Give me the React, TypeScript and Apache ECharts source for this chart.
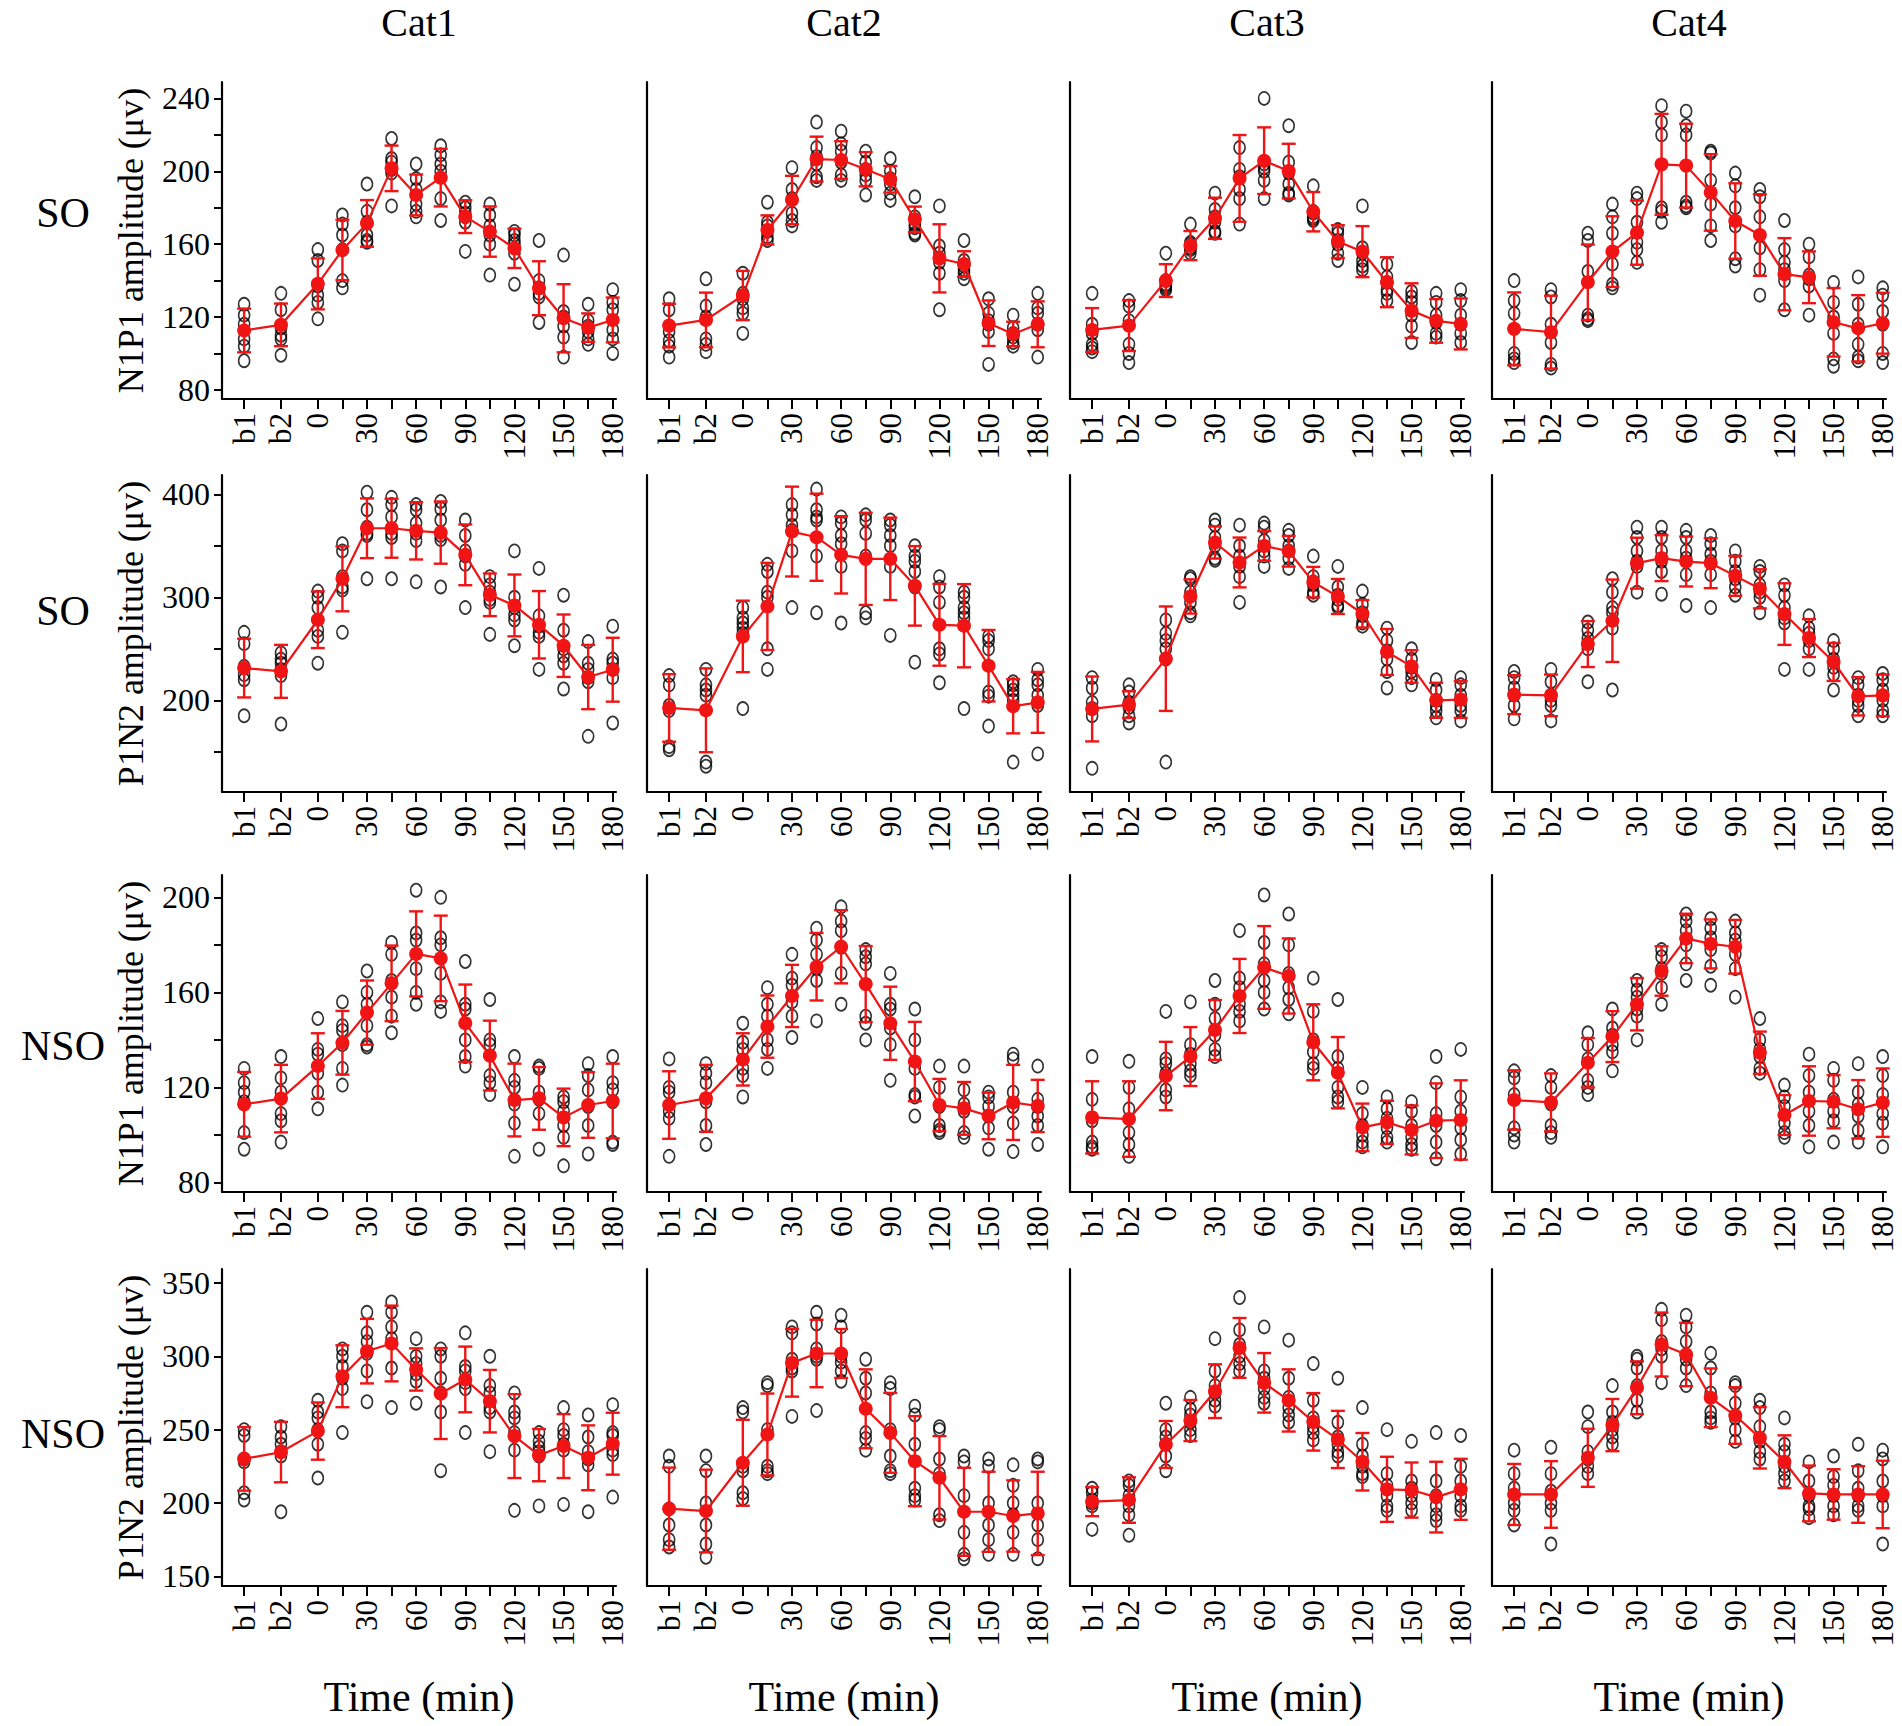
import React, { useEffect, useRef } from "react";
import * as echarts from "echarts";

// ---------------- DATA ----------------
const timeLabels = ["b1", "b2", "0", "15", "30", "45", "60", "75", "90", "105", "120", "135", "150", "165", "180"];
const timePositions = [-45, -22.5, 0, 15, 30, 45, 60, 75, 90, 105, 120, 135, 150, 165, 180];
const shownTimeLabels = ["b1", "b2", "0", "30", "60", "90", "120", "150", "180"];
const columnTitles = ["Cat1", "Cat2", "Cat3", "Cat4"];
const rowGroups = ["SO", "SO", "NSO", "NSO"];
const rowMeasures = ["N1P1 amplitude (μv)", "P1N2 amplitude (μv)", "N1P1 amplitude (μv)", "P1N2 amplitude (μv)"];
const xAxisTitle = "Time (min)";

const yMajorTicks = [
  [80, 120, 160, 200, 240],
  [200, 300, 400],
  [80, 120, 160, 200],
  [150, 200, 250, 300, 350],
];
const yMinorTicks = [
  [100, 140, 180, 220],
  [150, 250, 350],
  [100, 140, 180],
  [],
];

// Row 1: SO, N1P1
const soN1P1Cat1Mean = [112.6, 115.7, 138.2, 156.8, 171.4, 201.6, 187, 196.5, 175.1, 166.9, 157.7, 135.8, 119.3, 114.2, 118.4];
const soN1P1Cat1Sd = [12, 11.7, 14, 16.6, 12.8, 12.5, 11.2, 15.8, 9, 13.8, 10.8, 14.8, 18.7, 7.8, 12.3];
const soN1P1Cat1Pts = [
  [127, 121, 116, 108, 104, 96], [133, 124, 114, 110, 108, 99], [157, 151, 137, 132, 128, 119],
  [176, 171, 165, 157, 140, 136], [193, 178, 172, 165, 162, 161], [218, 207, 205, 201, 199, 181],
  [204, 196, 190, 182, 178, 175], [214, 209, 204, 200, 185, 173], [183, 180, 177, 175, 172, 156],
  [182, 176, 170, 165, 160, 143], [167, 165, 162, 160, 155, 138], [162, 140, 136, 133, 131, 117],
  [154, 123, 120, 115, 109, 98], [127, 118, 115, 112, 108, 105], [135, 128, 124, 113, 108, 100],
];
const soN1P1Cat2Mean = [115.3, 118.4, 131.8, 167.8, 184.2, 206.7, 206.2, 201.1, 195.6, 173.6, 152.2, 149.1, 116.6, 110.7, 116];
const soN1P1Cat2Sd = [12, 15, 13.5, 8, 13.3, 12.3, 10.3, 9.4, 7.3, 7, 18.7, 7, 12.5, 6.7, 12.6];
const soN1P1Cat2Pts = [
  [130, 124, 112, 107, 104, 98], [141, 126, 120, 108, 105, 101], [144, 133, 130, 125, 122, 111],
  [183, 172, 170, 167, 164, 162], [202, 190, 185, 177, 173, 170], [227, 213, 208, 204, 197, 195],
  [222, 215, 211, 205, 198, 195], [211, 205, 201, 198, 195, 187], [207, 200, 196, 193, 188, 184],
  [186, 175, 171, 169, 166, 165], [181, 159, 155, 150, 144, 124], [162, 151, 148, 146, 144, 141],
  [130, 122, 118, 116, 112, 94], [121, 114, 111, 109, 106, 104], [133, 125, 122, 116, 113, 98],
];
const soN1P1Cat3Mean = [112.9, 115.3, 140, 159.2, 174.2, 196.1, 205.8, 200.1, 177.8, 161.4, 155.9, 139.1, 123.5, 117.9, 116.2];
const soN1P1Cat3Sd = [12, 14, 9, 8, 11.3, 23.8, 18.3, 15, 10.8, 9, 14, 13.7, 15, 12, 14];
const soN1P1Cat3Pts = [
  [133, 116, 111, 105, 103, 101], [129, 126, 118, 105, 100, 95], [155, 140, 138, 137, 136, 135],
  [171, 161, 160, 158, 157, 155], [188, 179, 175, 172, 167, 166], [213, 201, 197, 190, 185, 171],
  [240, 204, 202, 200, 195, 185], [225, 205, 199, 193, 188, 187], [192, 178, 177, 175, 174, 173],
  [168, 166, 162, 160, 155, 151], [181, 158, 155, 151, 148, 146], [149, 142, 139, 135, 133, 129],
  [134, 131, 128, 121, 115, 106], [133, 128, 121, 117, 111, 109], [135, 129, 121, 116, 111, 106],
];
const soN1P1Cat4Mean = [113.5, 111.7, 139.1, 155.9, 166.3, 203.8, 203.1, 188.4, 172.7, 165, 143.5, 141.8, 117.1, 113.8, 116.6];
const soN1P1Cat4Sd = [20, 20, 20.7, 19.4, 17.6, 27.7, 23, 21, 20.7, 22.4, 19.8, 14.2, 18.8, 18.2, 16.7];
const soN1P1Cat4Pts = [
  [140, 129, 122, 100, 97, 95], [135, 131, 116, 106, 94, 92], [166, 162, 145, 121, 119, 118],
  [182, 175, 166, 149, 138, 136], [188, 185, 172, 161, 157, 150], [236, 227, 220, 180, 178, 172],
  [233, 225, 220, 183, 181, 180], [211, 210, 195, 182, 170, 162], [199, 192, 180, 170, 152, 148],
  [190, 186, 175, 158, 146, 132], [173, 157, 150, 146, 140, 124], [160, 153, 143, 141, 137, 121],
  [139, 128, 120, 111, 97, 93], [142, 127, 116, 105, 98, 96], [136, 132, 123, 116, 100, 95],
];

// Row 2: SO, P1N2
const soP1N2Cat1Mean = [231.3, 228.1, 278.2, 317.9, 367, 367, 364.5, 362.8, 341.2, 302.4, 292.1, 273.3, 253, 222.6, 229.7];
const soP1N2Cat1Sd = [28.5, 25.7, 27.5, 31.5, 29, 28.6, 27.8, 30.2, 29.5, 20.7, 30, 32.7, 30.3, 31.2, 31];
const soP1N2Cat1Pts = [
  [266, 255, 233, 225, 220, 185], [246, 240, 236, 230, 224, 177], [306, 300, 290, 268, 262, 236],
  [352, 345, 320, 310, 307, 266], [402, 385, 368, 362, 360, 318], [397, 390, 378, 362, 358, 318],
  [390, 385, 372, 362, 355, 315], [393, 386, 375, 360, 356, 310], [375, 360, 345, 340, 332, 290],
  [320, 312, 305, 298, 295, 264], [345, 300, 290, 283, 278, 253], [328, 282, 272, 266, 262, 230],
  [302, 268, 250, 243, 236, 211], [257, 236, 230, 222, 218, 165], [272, 240, 236, 230, 222, 178],
];
const soP1N2Cat2Mean = [192.6, 190.3, 262, 291.1, 363.8, 358.3, 341.2, 337.3, 337.3, 311.1, 273.3, 272.4, 233.6, 194.2, 198];
const soP1N2Cat2Sd = [32.8, 40.7, 34.7, 42.3, 43.6, 42.3, 37.5, 44.7, 40, 38.6, 39.7, 40.4, 34.7, 26.3, 29.6];
const soP1N2Cat2Pts = [
  [224, 215, 195, 190, 155, 152], [230, 215, 210, 205, 140, 136], [290, 280, 275, 270, 265, 192],
  [332, 325, 305, 300, 250, 230], [390, 380, 370, 365, 345, 290], [405, 385, 378, 375, 340, 285],
  [378, 372, 360, 352, 330, 275], [380, 375, 362, 340, 285, 280], [375, 370, 360, 350, 330, 263],
  [350, 340, 335, 325, 310, 237], [320, 310, 295, 250, 245, 217], [305, 300, 290, 285, 280, 192],
  [262, 258, 250, 208, 204, 175], [218, 215, 210, 205, 200, 140], [230, 220, 215, 205, 195, 148],
];
const soP1N2Cat3Mean = [191.6, 195.8, 240.4, 300.8, 353.2, 333.8, 349.9, 344.7, 314.7, 300.8, 284, 246.9, 232.9, 200, 200.7];
const soP1N2Cat3Sd = [31.5, 13, 50.7, 16.6, 15.6, 24.2, 14.4, 14.9, 14.8, 17, 13.3, 22.3, 15.8, 17, 17.8];
const soP1N2Cat3Pts = [
  [222, 212, 198, 192, 185, 134], [215, 208, 198, 193, 185, 178], [278, 265, 258, 250, 240, 140],
  [320, 318, 305, 295, 285, 282], [375, 370, 358, 350, 338, 336], [370, 350, 340, 330, 320, 295],
  [372, 368, 355, 345, 340, 330], [365, 360, 350, 345, 338, 328], [340, 320, 315, 312, 305, 302],
  [330, 310, 302, 298, 292, 290], [306, 293, 285, 282, 275, 272], [270, 258, 248, 240, 228, 212],
  [250, 240, 232, 228, 222, 215], [220, 210, 200, 195, 190, 183], [222, 215, 205, 195, 190, 180],
];
const soP1N2Cat4Mean = [205.5, 204.8, 254.6, 277.2, 333.1, 338, 334.7, 333.1, 320.8, 308.2, 283.7, 260.4, 237.2, 203.9, 204.8];
const soP1N2Cat4Sd = [18.9, 20.2, 22.3, 40, 24.7, 22.3, 24.2, 24.2, 19.4, 19, 29.9, 18.4, 18.4, 18.6, 20.2];
const soP1N2Cat4Pts = [
  [228, 222, 212, 205, 195, 182], [230, 218, 205, 200, 195, 180], [276, 268, 260, 255, 250, 218],
  [318, 305, 290, 285, 270, 210], [368, 358, 345, 335, 330, 305], [368, 358, 345, 335, 325, 303],
  [365, 358, 345, 338, 322, 292], [360, 352, 342, 335, 322, 290], [345, 335, 325, 318, 310, 302],
  [330, 325, 312, 305, 300, 285], [312, 302, 290, 280, 275, 230], [282, 270, 265, 258, 250, 230],
  [258, 250, 240, 232, 225, 210], [222, 215, 205, 200, 195, 185], [226, 220, 210, 200, 190, 185],
];

// Row 3: NSO, N1P1
const nsoN1P1Cat1Mean = [112.9, 115.3, 129, 138.8, 151.5, 163.8, 176.2, 174.3, 147, 133.4, 114.7, 115.4, 107.4, 112.6, 114.3];
const nsoN1P1Cat1Sd = [13.6, 14.2, 13.8, 13.4, 13.5, 15.9, 17.9, 18, 16.3, 14.7, 15.3, 13.2, 12.1, 13.8, 15.7];
const nsoN1P1Cat1Pts = [
  [128, 122, 118, 114, 101, 94], [133, 124, 118, 109, 106, 97], [149, 136, 134, 126, 118, 111],
  [156, 146, 144, 138, 128, 121], [169, 160, 155, 146, 138, 137], [181, 176, 165, 158, 150, 143],
  [203, 185, 182, 170, 160, 155], [200, 183, 180, 168, 156, 152], [173, 155, 153, 140, 133, 129],
  [157, 140, 138, 125, 122, 117], [133, 123, 120, 113, 105, 91], [129, 128, 118, 115, 109, 94],
  [116, 114, 110, 104, 99, 87], [130, 125, 119, 112, 104, 92], [133, 122, 119, 114, 97, 96],
];
const nsoN1P1Cat2Mean = [112.6, 115.4, 131.8, 145.6, 158.5, 170.8, 179.2, 163.5, 147, 130.9, 112.6, 111.2, 108, 113.7, 112.2];
const nsoN1P1Cat2Sd = [14.2, 14.1, 11, 13.1, 13.1, 14.2, 15.4, 16, 15.4, 16.7, 11, 11.1, 9.8, 15.8, 11];
const nsoN1P1Cat2Pts = [
  [132, 120, 118, 110, 107, 91], [130, 126, 122, 114, 104, 96], [147, 139, 136, 128, 125, 116],
  [162, 155, 150, 140, 136, 128], [176, 166, 163, 156, 150, 141], [187, 182, 176, 170, 165, 148],
  [196, 190, 186, 179, 168, 155], [178, 175, 172, 150, 147, 140], [168, 155, 153, 145, 138, 123],
  [153, 140, 128, 117, 116, 108], [129, 120, 112, 104, 102, 101], [129, 119, 113, 110, 101, 99],
  [118, 116, 112, 108, 103, 94], [134, 132, 118, 112, 105, 93], [129, 115, 112, 108, 104, 96],
];
const nsoN1P1Cat3Mean = [107.4, 106.7, 124.8, 133, 144.2, 158.5, 170.5, 166.9, 139, 126.2, 103.2, 105.3, 102.1, 106, 106.3];
const nsoN1P1Cat3Sd = [15.2, 15.9, 14.4, 12.4, 12.6, 15.6, 17.4, 15.8, 16, 15, 10, 9.1, 10.3, 15.7, 16.7];
const nsoN1P1Cat3Pts = [
  [133, 115, 106, 97, 95, 94], [131, 120, 111, 101, 96, 91], [152, 132, 130, 126, 119, 116],
  [156, 138, 134, 130, 127, 125], [165, 155, 149, 142, 136, 133], [186, 166, 162, 155, 152, 148],
  [201, 181, 172, 165, 160, 153], [193, 180, 168, 162, 157, 151], [166, 152, 140, 135, 130, 128],
  [157, 133, 128, 120, 116, 114], [120, 109, 104, 100, 97, 95], [116, 111, 107, 103, 99, 97],
  [114, 110, 104, 99, 96, 94], [133, 122, 109, 104, 97, 90], [136, 116, 110, 103, 98, 92],
];
const nsoN1P1Cat4Mean = [114.7, 113.7, 130.4, 141.4, 155, 169, 182.7, 180.4, 179.2, 134.6, 108.4, 114.3, 114, 110.8, 113.6];
const nsoN1P1Cat4Sd = [12.5, 12.2, 10.4, 10.7, 11, 10.4, 10.4, 10.3, 11.3, 8.9, 8.4, 14.6, 11.2, 12.3, 14.4];
const nsoN1P1Cat4Pts = [
  [127, 124, 117, 103, 100, 97], [125, 120, 113, 104, 101, 99], [143, 138, 132, 123, 120, 117],
  [153, 145, 142, 138, 135, 127], [165, 161, 158, 153, 150, 140], [178, 175, 170, 168, 162, 155],
  [193, 190, 186, 180, 172, 165], [191, 187, 183, 178, 171, 163], [190, 185, 182, 176, 170, 158],
  [149, 140, 136, 133, 128, 126], [121, 116, 112, 105, 101, 99], [134, 125, 118, 110, 104, 95],
  [128, 123, 115, 110, 106, 97], [130, 118, 113, 108, 102, 97], [133, 125, 117, 109, 105, 95],
];

// Row 4: NSO, P1N2
const nsoP1N2Cat1Mean = [230.1, 234.7, 249, 286.4, 303.5, 308.7, 291, 274.6, 284.2, 269.4, 245.6, 232.6, 238.8, 230.8, 240.4];
const nsoP1N2Cat1Sd = [21.7, 20.6, 19.5, 21.1, 22, 25.8, 14.4, 31, 22.4, 21.3, 28.6, 17.8, 21.8, 22.1, 21.1];
const nsoP1N2Cat1Pts = [
  [250, 246, 230, 228, 207, 202], [252, 245, 240, 235, 232, 194], [270, 262, 258, 250, 240, 217],
  [305, 300, 293, 285, 278, 248], [330, 316, 310, 302, 290, 269], [337, 330, 320, 312, 292, 265],
  [312, 300, 295, 288, 283, 268], [305, 300, 285, 275, 262, 222], [316, 293, 290, 282, 278, 248],
  [300, 280, 275, 265, 262, 235], [275, 262, 258, 248, 236, 195], [248, 242, 238, 235, 232, 198],
  [265, 250, 246, 240, 236, 199], [260, 245, 235, 230, 226, 194], [267, 248, 246, 236, 233, 204],
];
const nsoP1N2Cat2Mean = [196.1, 194.5, 227.4, 246.7, 295.5, 301.9, 301.9, 264.2, 247.8, 228.5, 217.2, 194, 194, 191.1, 192.9];
const nsoP1N2Cat2Sd = [28, 28.2, 29.3, 27.9, 23, 23, 16.7, 26.9, 27.2, 30.7, 28.4, 30, 27.3, 24.3, 28.4];
const nsoP1N2Cat2Pts = [
  [232, 225, 196, 185, 175, 170], [232, 222, 200, 185, 172, 163], [265, 262, 225, 222, 207, 203],
  [282, 280, 250, 225, 222, 220], [320, 316, 298, 292, 290, 259], [330, 322, 305, 300, 298, 263],
  [328, 320, 300, 296, 290, 283], [298, 285, 275, 248, 244, 236], [282, 278, 250, 232, 222, 220],
  [266, 260, 240, 210, 205, 202], [252, 250, 230, 220, 192, 188], [232, 228, 205, 180, 165, 162],
  [230, 225, 200, 185, 175, 165], [226, 212, 200, 192, 180, 165], [230, 228, 200, 185, 175, 162],
];
const nsoP1N2Cat3Mean = [200.9, 202, 239.9, 256.2, 276.2, 305.7, 281.9, 269.9, 255.3, 243.3, 228.1, 209.3, 208.8, 204, 209.3];
const nsoP1N2Cat3Sd = [9.9, 15.5, 16, 14, 18.3, 20.4, 20.3, 21.2, 19.6, 19.5, 19.6, 22.2, 18.8, 24.1, 20.8];
const nsoP1N2Cat3Pts = [
  [210, 207, 202, 200, 198, 182], [215, 212, 205, 198, 192, 178], [268, 250, 245, 240, 232, 222],
  [272, 264, 260, 255, 250, 246], [312, 290, 280, 275, 270, 266], [340, 318, 308, 300, 295, 290],
  [320, 290, 285, 278, 272, 268], [311, 285, 272, 265, 260, 255], [295, 270, 258, 252, 248, 243],
  [285, 255, 245, 240, 235, 232], [265, 240, 232, 225, 220, 218], [250, 220, 212, 205, 198, 195],
  [242, 215, 210, 205, 200, 195], [248, 215, 205, 198, 192, 188], [246, 225, 215, 205, 198, 195],
];
const nsoP1N2Cat4Mean = [205.8, 205.8, 230.8, 253.1, 278.5, 308, 301.2, 271.7, 259.6, 244.4, 228.1, 206.5, 205.8, 205.8, 205.8];
const nsoP1N2Cat4Sd = [20.8, 22.7, 19.8, 17.8, 18, 21.8, 21.6, 20, 19.3, 20.9, 18, 19, 17.2, 19.3, 23];
const nsoP1N2Cat4Pts = [
  [236, 220, 210, 200, 195, 185], [238, 220, 208, 200, 195, 172], [262, 252, 235, 230, 225, 220],
  [280, 262, 255, 250, 245, 240], [300, 298, 292, 280, 270, 262], [332, 325, 310, 305, 300, 282],
  [328, 320, 310, 298, 292, 280], [302, 292, 275, 262, 258, 255], [282, 280, 268, 258, 250, 242],
  [270, 265, 252, 242, 235, 230], [258, 240, 235, 225, 220, 215], [228, 215, 205, 198, 196, 190],
  [232, 218, 212, 205, 198, 192], [240, 222, 210, 205, 198, 195], [236, 230, 215, 205, 198, 172],
];

const panelData = [
  [
    [soN1P1Cat1Mean, soN1P1Cat1Sd, soN1P1Cat1Pts],
    [soN1P1Cat2Mean, soN1P1Cat2Sd, soN1P1Cat2Pts],
    [soN1P1Cat3Mean, soN1P1Cat3Sd, soN1P1Cat3Pts],
    [soN1P1Cat4Mean, soN1P1Cat4Sd, soN1P1Cat4Pts],
  ],
  [
    [soP1N2Cat1Mean, soP1N2Cat1Sd, soP1N2Cat1Pts],
    [soP1N2Cat2Mean, soP1N2Cat2Sd, soP1N2Cat2Pts],
    [soP1N2Cat3Mean, soP1N2Cat3Sd, soP1N2Cat3Pts],
    [soP1N2Cat4Mean, soP1N2Cat4Sd, soP1N2Cat4Pts],
  ],
  [
    [nsoN1P1Cat1Mean, nsoN1P1Cat1Sd, nsoN1P1Cat1Pts],
    [nsoN1P1Cat2Mean, nsoN1P1Cat2Sd, nsoN1P1Cat2Pts],
    [nsoN1P1Cat3Mean, nsoN1P1Cat3Sd, nsoN1P1Cat3Pts],
    [nsoN1P1Cat4Mean, nsoN1P1Cat4Sd, nsoN1P1Cat4Pts],
  ],
  [
    [nsoP1N2Cat1Mean, nsoP1N2Cat1Sd, nsoP1N2Cat1Pts],
    [nsoP1N2Cat2Mean, nsoP1N2Cat2Sd, nsoP1N2Cat2Pts],
    [nsoP1N2Cat3Mean, nsoP1N2Cat3Sd, nsoP1N2Cat3Pts],
    [nsoP1N2Cat4Mean, nsoP1N2Cat4Sd, nsoP1N2Cat4Pts],
  ],
];

// ---------------- LAYOUT / STYLE ----------------
const RED = "#f01414";
const FONT = "'Liberation Serif', 'Times New Roman', serif";
const GRID_LEFT = [222, 647, 1070, 1492];
const GRID_TOP = [82, 475, 875, 1269];
const GRID_W = 394;
const GRID_H = 317;
const X_MIN = -58.5;
const X_MAX = 182;
const Y_MIN = [75, 111, 76, 143.4];
const Y_MAX = [249, 418.7, 209.4, 359.5];
const ROW_LABEL_Y = [213, 611, 1046, 1434];

const shownTimePositions = shownTimeLabels.map((l) => timePositions[timeLabels.indexOf(l)]);
const labelForTime = (v: number) => {
  const idx = timePositions.findIndex((p) => Math.abs(p - v) < 0.01);
  return idx >= 0 ? timeLabels[idx] : "";
};

function buildOption() {
  const grid: any[] = [];
  const xAxis: any[] = [];
  const yAxis: any[] = [];
  const series: any[] = [];
  const graphic: any[] = [];
  const axisLineStyle = { color: "#000", width: 2.2 };

  for (let r = 0; r < 4; r++) {
    for (let c = 0; c < 4; c++) {
      const gi = grid.length;
      const [mean, sd, pts] = panelData[r][c] as [number[], number[], number[][]];
      grid.push({ left: GRID_LEFT[c], top: GRID_TOP[r], width: GRID_W, height: GRID_H });
      xAxis.push({
        type: "value",
        gridIndex: gi,
        min: X_MIN,
        max: X_MAX,
        axisLine: { show: true, onZero: false, lineStyle: axisLineStyle },
        axisTick: { show: true, customValues: timePositions, length: 10, lineStyle: { color: "#000", width: 2 } },
        axisLabel: {
          show: true,
          customValues: shownTimePositions,
          rotate: 90,
          margin: 14,
          fontSize: 31,
          fontFamily: FONT,
          color: "#000",
          formatter: (v: number) => labelForTime(v),
        },
        splitLine: { show: false },
      });
      const yi = yAxis.length;
      const allTicks = [...yMajorTicks[r], ...yMinorTicks[r]].sort((a, b) => a - b);
      yAxis.push({
        type: "value",
        gridIndex: gi,
        min: Y_MIN[r],
        max: Y_MAX[r],
        axisLine: { show: true, onZero: false, lineStyle: axisLineStyle },
        axisTick: { show: c === 0, customValues: allTicks, length: 8, lineStyle: { color: "#000", width: 2 } },
        axisLabel: {
          show: c === 0,
          customValues: yMajorTicks[r],
          margin: 12,
          fontSize: 32,
          fontFamily: FONT,
          color: "#000",
        },
        splitLine: { show: false },
      });

      const pointData: number[][] = [];
      pts.forEach((vals, k) => vals.forEach((v) => pointData.push([timePositions[k], v])));
      series.push({
        type: "scatter",
        xAxisIndex: gi,
        yAxisIndex: yi,
        data: pointData,
        symbol: "circle",
        symbolSize: [11, 13],
        itemStyle: { color: "rgba(0,0,0,0)", borderColor: "#000", borderWidth: 1.7 },
        z: 2,
        silent: true,
      });
      series.push({
        type: "custom",
        xAxisIndex: gi,
        yAxisIndex: yi,
        data: timePositions.map((x, k) => [x, mean[k] - sd[k], mean[k] + sd[k]]),
        encode: { x: 0, y: [1, 2] },
        z: 3,
        silent: true,
        renderItem: (params: any, api: any) => {
          const x = api.value(0);
          const lo = api.coord([x, api.value(1)]);
          const hi = api.coord([x, api.value(2)]);
          const hw = 7;
          const st = { stroke: RED, lineWidth: 2.4 };
          return {
            type: "group",
            children: [
              { type: "line", shape: { x1: lo[0], y1: lo[1], x2: hi[0], y2: hi[1] }, style: st },
              { type: "line", shape: { x1: lo[0] - hw, y1: lo[1], x2: lo[0] + hw, y2: lo[1] }, style: st },
              { type: "line", shape: { x1: hi[0] - hw, y1: hi[1], x2: hi[0] + hw, y2: hi[1] }, style: st },
            ],
          };
        },
      });
      series.push({
        type: "line",
        xAxisIndex: gi,
        yAxisIndex: yi,
        data: timePositions.map((x, k) => [x, mean[k]]),
        symbol: "circle",
        symbolSize: 14,
        itemStyle: { color: RED },
        lineStyle: { color: RED, width: 2.2 },
        z: 4,
        silent: true,
      });
    }
  }

  for (let c = 0; c < 4; c++) {
    const cx = GRID_LEFT[c] + GRID_W / 2;
    graphic.push({
      type: "text",
      x: cx,
      y: 22,
      style: { text: columnTitles[c], fontSize: 40, fontFamily: FONT, fill: "#000", align: "center", verticalAlign: "middle", textAlign: "center", textVerticalAlign: "middle" },
    });
    graphic.push({
      type: "text",
      x: cx,
      y: 1697,
      style: { text: xAxisTitle, fontSize: 42, fontFamily: FONT, fill: "#000", align: "center", verticalAlign: "middle", textAlign: "center", textVerticalAlign: "middle" },
    });
  }
  for (let r = 0; r < 4; r++) {
    graphic.push({
      type: "text",
      x: 63,
      y: ROW_LABEL_Y[r],
      style: { text: rowGroups[r], fontSize: 42, fontFamily: FONT, fill: "#000", align: "center", verticalAlign: "middle", textAlign: "center", textVerticalAlign: "middle" },
    });
    graphic.push({
      type: "text",
      x: 131,
      y: GRID_TOP[r] + GRID_H / 2,
      rotation: Math.PI / 2,
      style: { text: rowMeasures[r], fontSize: 36, fontFamily: FONT, fill: "#000", align: "center", verticalAlign: "middle", textAlign: "center", textVerticalAlign: "middle" },
    });
  }

  return {
    animation: false,
    backgroundColor: "#fff",
    grid,
    xAxis,
    yAxis,
    series,
    graphic,
  };
}

export default function App() {
  const ref = useRef<HTMLDivElement>(null);
  useEffect(() => {
    if (!ref.current) return;
    const chart = echarts.init(ref.current, undefined, { renderer: "svg" });
    chart.setOption(buildOption() as any);
    return () => chart.dispose();
  }, []);
  return (
    <div
      ref={ref}
      style={{ position: "absolute", left: 0, top: 0, width: 1902, height: 1726, background: "#fff" }}
    />
  );
}
